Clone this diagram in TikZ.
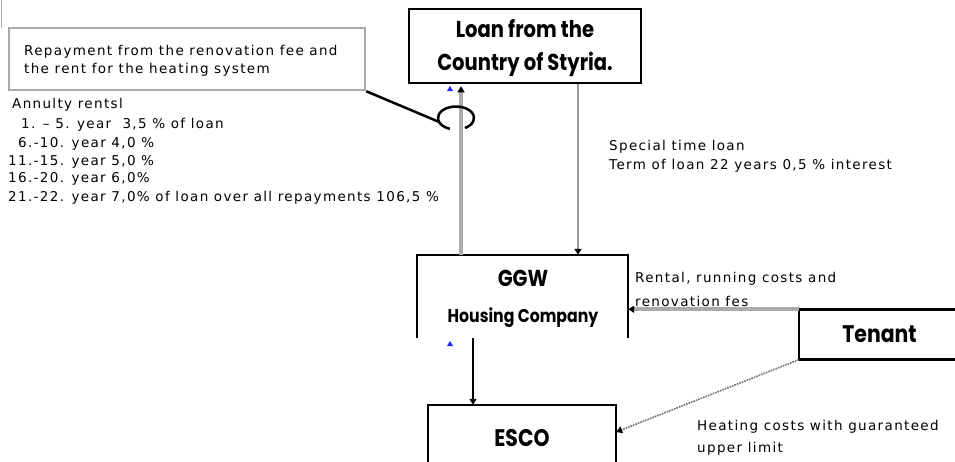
\documentclass[tikz,border=0pt]{standalone}
\usepackage{fontspec}
\usetikzlibrary{arrows.meta}
\newfontfamily\boxfont[FakeStretch=0.85]{Poppins}
\newfontfamily\txtfont[LetterSpace=10]{DejaVu Sans}
\definecolor{lgray}{HTML}{AAAAAA}
\definecolor{mgray}{HTML}{999999}
\definecolor{dgray}{HTML}{707070}
\definecolor{mkblue}{HTML}{2222FF}
\begin{document}
\begin{tikzpicture}[x=1pt,y=-1pt,
  plainbox/.style={inner sep=0pt, draw=none},
  boxline/.style={line width=2.5pt, draw=black},
  tip/.style={-{Triangle[width=7pt,length=6pt,color=black]}},
  smalltext/.style={font=\txtfont\fontsize{13.5}{19}\selectfont, align=left, inner sep=0pt, anchor=west},
  boxtitle/.style={font=\boxfont\bfseries\fontsize{23}{33}\selectfont, align=center, inner sep=0pt}]
\useasboundingbox[fill=white] (0,0) rectangle (955,461);
% faint left edge line
\draw[line width=1pt, lgray] (1,0) -- (1,28);
% boxes
\node[plainbox, draw=lgray, line width=2.5pt, minimum width=356pt, minimum height=62pt] (repay) at (187,59) {};
\node[smalltext, font=\txtfont\fontsize{13.5}{18}\selectfont] (repaytext) at (24,61)
      {Repayment from the renovation fee and\\the rent for the heating system};
\node[plainbox, boxline, minimum width=232pt, minimum height=74pt] (loan) at (525,46) {};
\node[boxtitle] (loantext) at (525,48) {Loan from the\\Country of Styria.};
\node[plainbox, minimum width=211pt, minimum height=83pt] (ggw) at (522.5,296.5) {};
\draw[boxline] (ggw.south west) -- (ggw.north west) -- (ggw.north east) -- (ggw.south east);
\node[boxtitle, font=\boxfont\bfseries\fontsize{23}{23}\selectfont] (ggwt) at (523,278) {GGW};
\node[boxtitle, font=\boxfont\bfseries\fontsize{18.5}{18.5}\selectfont] (ggws) at (523,318) {Housing Company};
\node[plainbox, minimum width=188pt, minimum height=66pt, boxtitle,
      font=\boxfont\bfseries\fontsize{24}{24}\selectfont] (esco) at (522,438) {ESCO};
\draw[boxline] (esco.south west) -- (esco.north west) -- (esco.north east) -- (esco.south east);
\node[plainbox, minimum width=161pt, minimum height=50pt, boxtitle,
      font=\boxfont\bfseries\fontsize{24}{24}\selectfont] (tenant) at (879.5,334.5) {Tenant};
\draw[boxline] (tenant.north east) -- (tenant.north west) -- (tenant.south west) -- (tenant.south east);
% annuity text
\node[smalltext] (ann0) at (12,104.5) {Annulty rentsl};
\node[smalltext] (ann1) at (21,124.5) {1. – 5. year \ 3,5 \% of loan};
\node[smalltext] (ann2) at (18,143.5) {6.-10. year 4,0 \%};
\node[smalltext] (ann3) at (8,161.5) {11.-15. year 5,0 \%};
\node[smalltext] (ann4) at (8,178.5) {16.-20. year 6,0\%};
\node[smalltext] (ann5) at (8,197.5) {21.-22. year 7,0\% of loan over all repayments 106,5 \%};
% labels
\node[smalltext] (special) at (609,156.5) {Special time loan\\Term of loan 22 years 0,5 \% interest};
\node[smalltext, font=\txtfont\fontsize{13.5}{24}\selectfont] (rental) at (635,289) {Rental, running costs and\\renovation fes};
\node[smalltext, font=\txtfont\fontsize{13.5}{22}\selectfont] (heating) at (697,437.5) {Heating costs with guaranteed\\upper limit};
% connectors
\coordinate (upx) at (461,0);
\coordinate (downx) at (578,0);
\coordinate (escox) at (473,0);
\draw[line width=4pt, lgray, tip, shorten >=2pt] (ggw.north -| upx) -- (loan.south -| upx);
\draw[line width=2pt, mgray, tip] (loan.south -| downx) -- (ggw.north -| downx);
\draw[boxline, tip] (ggw.south -| escox) -- (esco.north -| escox);
\draw[line width=4pt, lgray, tip] (tenant.north west) -- (tenant.north west -| ggw.east);
\draw[line width=1.6pt, dgray, densely dotted, tip] (tenant.south west) -- ([yshift=6pt]esco.east);
% loop round the repayment line
\coordinate (loop) at (456,118);
\draw[boxline] ([shift={(-60:18pt and 11.5pt)}]loop) arc[start angle=-60, end angle=250, x radius=18pt, y radius=11.5pt];
\draw[boxline] (repay.south east) -- ([shift={(200:18pt and 11.5pt)}]loop);
% blue markers
\fill[mkblue] (447,91) -- (453,91) -- (450,86) -- cycle;
\fill[mkblue] (447,346) -- (453,346) -- (450,341) -- cycle;
\end{tikzpicture}
\end{document}
